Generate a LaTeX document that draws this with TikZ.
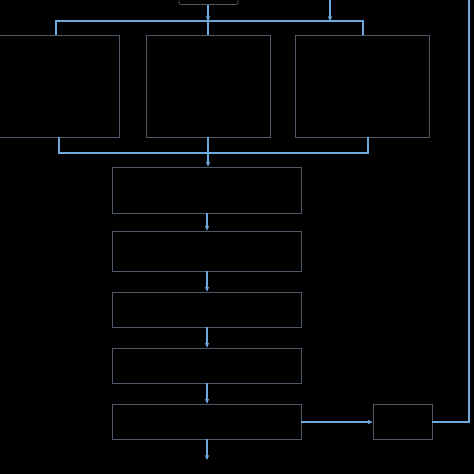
\documentclass[tikz,border=0pt]{standalone}
\usetikzlibrary{arrows.meta}
\begin{document}
\begin{tikzpicture}[x=1pt,y=-1pt,
  boxst/.style={draw=boxgray,line width=0.8pt,inner sep=0pt},
  conn/.style={draw=linkblue,line width=1.4pt},
  arr/.style={conn,-{Stealth[length=5pt,width=4.5pt]}}]
\definecolor{boxgray}{HTML}{4E5A68}
\definecolor{linkblue}{HTML}{6FA8DC}
\useasboundingbox (0,0) rectangle (474,474);
\clip (0,0) rectangle (474,474);
\fill[black] (0,0) rectangle (474,474);
% top partial box
\draw[boxst,rounded corners=2pt] (179,-20) rectangle (238,4.5);
\coordinate (topc) at (208,4.5);
% three upper boxes
\node[boxst,minimum width=125pt,minimum height=102pt] (L) at (56.5,86) {};
\node[boxst,minimum width=124pt,minimum height=102pt] (M) at (208,86) {};
\node[boxst,minimum width=134pt,minimum height=102pt] (R) at (362,86) {};
% column boxes
\node[boxst,minimum width=189pt,minimum height=46pt] (B1) at (206.5,190) {};
\node[boxst,minimum width=189pt,minimum height=40pt] (B2) at (206.5,251) {};
\node[boxst,minimum width=189pt,minimum height=35pt] (B3) at (206.5,309.5) {};
\node[boxst,minimum width=189pt,minimum height=35pt] (B4) at (206.5,365.5) {};
\node[boxst,minimum width=189pt,minimum height=35pt] (B5) at (206.5,421.5) {};
\node[boxst,minimum width=59pt,minimum height=35pt] (S) at (402.5,421.5) {};
% coordinates
\coordinate (split) at (208,21);
\coordinate (fin) at (330,0);
\coordinate (merge) at (208,153);
\coordinate (loopc) at (469,422);
\coordinate (looptop) at (469,0);
\coordinate (outc) at (207,460);
% top distribution
\draw[arr] (topc) -- (split);
\draw[arr] (fin) -- (330,21);
\draw[conn] (56,35) |- (363,21) -- (363,35);
\draw[conn] (split) -- (M.north);
% merge below
\draw[conn] (59,137) |- (368,153) -- (368,137);
\draw[conn] (M.south) -- (merge);
\draw[arr] (merge) -- (merge |- B1.north);
% chain
\draw[arr] (207,213) -- (B2.north -| 207,0);
\draw[arr] (B2.south -| 207,0) -- (B3.north -| 207,0);
\draw[arr] (B3.south -| 207,0) -- (B4.north -| 207,0);
\draw[arr] (B4.south -| 207,0) -- (B5.north -| 207,0);
\draw[arr] (B5.south -| 207,0) -- (outc);
\draw[arr] (B5.east |- loopc) -- (S.west |- loopc);
\draw[conn] (S.east |- loopc) -- (loopc) -- (looptop);
\end{tikzpicture}
\end{document}
